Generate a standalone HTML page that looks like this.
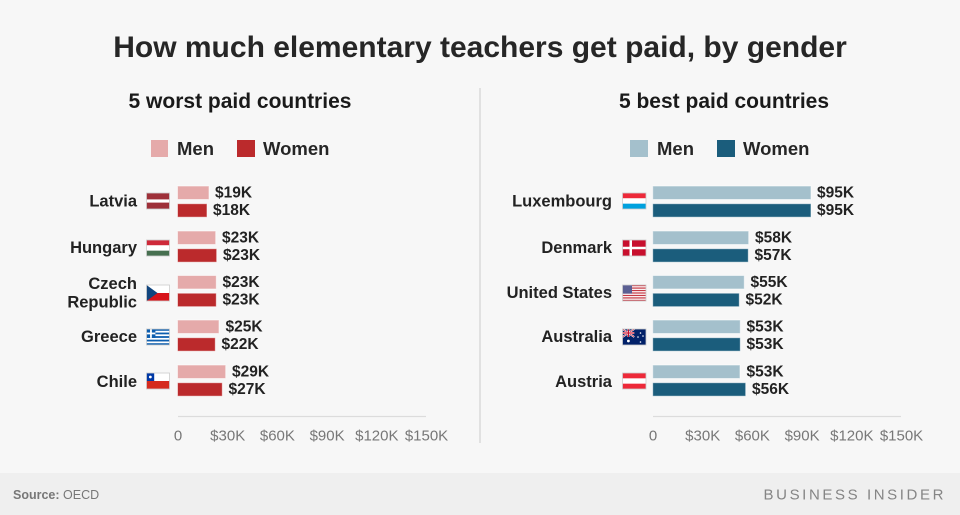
<!DOCTYPE html>
<html><head><meta charset="utf-8"><style>
html,body{margin:0;padding:0;background:#f7f7f7;}
svg{display:block;font-family:"Liberation Sans",Arial,sans-serif;}
</style></head><body>
<svg width="960" height="515" viewBox="0 0 960 515" xmlns="http://www.w3.org/2000/svg">
<rect x="0" y="0" width="960" height="515" fill="#f7f7f7"/>
<rect x="0" y="473" width="960" height="42" fill="#efefef"/>

<text x="480" y="57" text-anchor="middle" font-size="30" font-weight="bold" fill="#262626">How much elementary teachers get paid, by gender</text>

<text x="240" y="108" text-anchor="middle" font-size="21" font-weight="bold" fill="#1a1a1a">5 worst paid countries</text>
<text x="724" y="108" text-anchor="middle" font-size="21" font-weight="bold" fill="#1a1a1a">5 best paid countries</text>

<line x1="480" y1="88" x2="480" y2="443" stroke="#dadada" stroke-width="1.5"/>

<!-- legends -->
<rect x="151" y="140" width="17" height="17" fill="#e5aaaa"/>
<text x="177" y="155" font-size="18.5" font-weight="bold" fill="#262626">Men</text>
<rect x="237" y="140" width="18" height="17" fill="#bb2a2c"/>
<text x="263" y="155" font-size="18.5" font-weight="bold" fill="#262626">Women</text>

<rect x="630" y="140" width="18" height="17" fill="#a4c0cc"/>
<text x="657" y="155" font-size="18.5" font-weight="bold" fill="#262626">Men</text>
<rect x="717" y="140" width="18" height="17" fill="#1b5d7c"/>
<text x="743" y="155" font-size="18.5" font-weight="bold" fill="#262626">Women</text>

<!-- axes -->
<line x1="178" y1="416.5" x2="426" y2="416.5" stroke="#dcdcdc" stroke-width="1.2"/>
<line x1="653" y1="416.5" x2="901" y2="416.5" stroke="#dcdcdc" stroke-width="1.2"/>
<g font-size="15" fill="#777" text-anchor="middle">
<text x="178" y="440.5">0</text>
<text x="227.7" y="440.5">$30K</text>
<text x="277.4" y="440.5">$60K</text>
<text x="327.1" y="440.5">$90K</text>
<text x="376.8" y="440.5">$120K</text>
<text x="426.5" y="440.5">$150K</text>
<text x="653" y="440.5">0</text>
<text x="702.7" y="440.5">$30K</text>
<text x="752.4" y="440.5">$60K</text>
<text x="802.1" y="440.5">$90K</text>
<text x="851.8" y="440.5">$120K</text>
<text x="901.5" y="440.5">$150K</text>
</g>

<!-- left bars -->
<g stroke="rgba(255,255,255,0.55)" stroke-width="1">
<rect x="177.5" y="186" width="31.5" height="13.5" fill="#e5aaaa"/>
<rect x="177.5" y="203.7" width="29.5" height="13.5" fill="#bb2a2c"/>
<rect x="177.5" y="231" width="38.2" height="13.5" fill="#e5aaaa"/>
<rect x="177.5" y="248.7" width="39.2" height="13.5" fill="#bb2a2c"/>
<rect x="177.5" y="275.5" width="38.8" height="13.5" fill="#e5aaaa"/>
<rect x="177.5" y="293.2" width="38.8" height="13.5" fill="#bb2a2c"/>
<rect x="177.5" y="320" width="41.5" height="13.5" fill="#e5aaaa"/>
<rect x="177.5" y="337.7" width="37.8" height="13.5" fill="#bb2a2c"/>
<rect x="177.5" y="365" width="48.2" height="13.5" fill="#e5aaaa"/>
<rect x="177.5" y="382.7" width="44.8" height="13.5" fill="#bb2a2c"/>
</g>
<g font-size="15.5" font-weight="bold" fill="#222">
<text x="215" y="197.5">$19K</text>
<text x="213" y="215.2">$18K</text>
<text x="222" y="242.5">$23K</text>
<text x="223" y="260.2">$23K</text>
<text x="222.5" y="287">$23K</text>
<text x="222.5" y="304.7">$23K</text>
<text x="225.5" y="331.5">$25K</text>
<text x="221.5" y="349.2">$22K</text>
<text x="232" y="376.5">$29K</text>
<text x="228.5" y="394.2">$27K</text>
</g>
<g font-size="16.5" font-weight="bold" fill="#222" text-anchor="end">
<text x="137" y="206.5">Latvia</text>
<text x="137" y="253">Hungary</text>
<text x="137" y="289">Czech</text>
<text x="137" y="307.5">Republic</text>
<text x="137" y="342">Greece</text>
<text x="137" y="387">Chile</text>
</g>

<!-- right bars -->
<g stroke="rgba(255,255,255,0.55)" stroke-width="1">
<rect x="652.7" y="186" width="158.3" height="13.5" fill="#a4c0cc"/>
<rect x="652.7" y="203.7" width="158.3" height="13.5" fill="#1b5d7c"/>
<rect x="652.7" y="231" width="96" height="13.5" fill="#a4c0cc"/>
<rect x="652.7" y="248.7" width="95.6" height="13.5" fill="#1b5d7c"/>
<rect x="652.7" y="275.5" width="91.6" height="13.5" fill="#a4c0cc"/>
<rect x="652.7" y="293.2" width="86.6" height="13.5" fill="#1b5d7c"/>
<rect x="652.7" y="320" width="87.6" height="13.5" fill="#a4c0cc"/>
<rect x="652.7" y="337.7" width="87.6" height="13.5" fill="#1b5d7c"/>
<rect x="652.7" y="365" width="87.3" height="13.5" fill="#a4c0cc"/>
<rect x="652.7" y="382.7" width="93" height="13.5" fill="#1b5d7c"/>
</g>
<g font-size="15.5" font-weight="bold" fill="#222">
<text x="817" y="197.5">$95K</text>
<text x="817" y="215.2">$95K</text>
<text x="755" y="242.5">$58K</text>
<text x="754.5" y="260.2">$57K</text>
<text x="750.5" y="287">$55K</text>
<text x="745.5" y="304.7">$52K</text>
<text x="746.5" y="331.5">$53K</text>
<text x="746.5" y="349.2">$53K</text>
<text x="746.5" y="376.5">$53K</text>
<text x="752" y="394.2">$56K</text>
</g>
<g font-size="16.5" font-weight="bold" fill="#222" text-anchor="end">
<text x="612" y="206.5">Luxembourg</text>
<text x="612" y="253">Denmark</text>
<text x="612" y="298">United States</text>
<text x="612" y="342">Australia</text>
<text x="612" y="387">Austria</text>
</g>

<!-- flags left -->
<!-- Latvia -->
<g transform="translate(146.5,193)">
<rect width="23" height="16" fill="#9e3039"/>
<rect y="6.4" width="23" height="3.2" fill="#fff"/>
<rect width="23" height="16" fill="none" stroke="#ccc" stroke-width="0.8"/>
</g>
<!-- Hungary -->
<g transform="translate(146.5,240)">
<rect width="23" height="5.33" fill="#ce2939"/>
<rect y="5.33" width="23" height="5.34" fill="#fff"/>
<rect y="10.67" width="23" height="5.33" fill="#477050"/>
<rect width="23" height="16" fill="none" stroke="#ccc" stroke-width="0.8"/>
</g>
<!-- Czech -->
<g transform="translate(146.5,285)">
<rect width="23" height="8" fill="#fff"/>
<rect y="8" width="23" height="8" fill="#d7141a"/>
<polygon points="0,0 11,8 0,16" fill="#11457e"/>
<rect width="23" height="16" fill="none" stroke="#ccc" stroke-width="0.8"/>
</g>
<!-- Greece -->
<g transform="translate(146.5,329)">
<rect width="23" height="16" fill="#fff"/>
<rect y="0" width="23" height="1.78" fill="#0d5eaf"/>
<rect y="3.56" width="23" height="1.78" fill="#0d5eaf"/>
<rect y="7.11" width="23" height="1.78" fill="#0d5eaf"/>
<rect y="10.67" width="23" height="1.78" fill="#0d5eaf"/>
<rect y="14.22" width="23" height="1.78" fill="#0d5eaf"/>
<rect width="8.9" height="8.9" fill="#0d5eaf"/>
<rect x="3.56" width="1.78" height="8.9" fill="#fff"/>
<rect y="3.56" width="8.9" height="1.78" fill="#fff"/>
<rect width="23" height="16" fill="none" stroke="#ccc" stroke-width="0.8"/>
</g>
<!-- Chile -->
<g transform="translate(146.5,373)">
<rect width="23" height="8" fill="#fff"/>
<rect y="8" width="23" height="8" fill="#d52b1e"/>
<rect width="7.7" height="8" fill="#0039a6"/>
<circle cx="3.85" cy="4" r="1.4" fill="#fff"/>
<rect width="23" height="16" fill="none" stroke="#ccc" stroke-width="0.8"/>
</g>

<!-- flags right -->
<!-- Luxembourg -->
<g transform="translate(622.5,193)">
<rect width="23.5" height="5.33" fill="#ed2939"/>
<rect y="5.33" width="23.5" height="5.34" fill="#fff"/>
<rect y="10.67" width="23.5" height="5.33" fill="#00a1de"/>
<rect width="23.5" height="16" fill="none" stroke="#ccc" stroke-width="0.8"/>
</g>
<!-- Denmark -->
<g transform="translate(622.5,240)">
<rect width="23.5" height="16" fill="#c8102e"/>
<rect x="7" width="2.5" height="16" fill="#fff"/>
<rect y="6.75" width="23.5" height="2.5" fill="#fff"/>
<rect width="23.5" height="16" fill="none" stroke="#ccc" stroke-width="0.8"/>
</g>
<!-- USA -->
<g transform="translate(622.5,285)">
<rect width="23.5" height="16" fill="#fff"/>
<g fill="#c53a45">
<rect y="0" width="23.5" height="1.23"/>
<rect y="2.46" width="23.5" height="1.23"/>
<rect y="4.92" width="23.5" height="1.23"/>
<rect y="7.38" width="23.5" height="1.23"/>
<rect y="9.85" width="23.5" height="1.23"/>
<rect y="12.31" width="23.5" height="1.23"/>
<rect y="14.77" width="23.5" height="1.23"/>
</g>
<rect width="9.5" height="8.6" fill="#5b5f93"/>
<rect width="23.5" height="16" fill="none" stroke="#ccc" stroke-width="0.8"/>
</g>
<!-- Australia -->
<g transform="translate(622.5,329)">
<rect width="23.5" height="16" fill="#012169"/>
<g transform="translate(0,0)">
<line x1="0" y1="0" x2="11.75" y2="8" stroke="#fff" stroke-width="1.8"/>
<line x1="11.75" y1="0" x2="0" y2="8" stroke="#fff" stroke-width="1.8"/>
<line x1="0" y1="0" x2="11.75" y2="8" stroke="#c8102e" stroke-width="0.6"/>
<line x1="11.75" y1="0" x2="0" y2="8" stroke="#c8102e" stroke-width="0.6"/>
<rect x="4.9" width="2" height="8" fill="#fff"/>
<rect y="3" width="11.75" height="2" fill="#fff"/>
<rect x="5.3" width="1.2" height="8" fill="#c8102e"/>
<rect y="3.4" width="11.75" height="1.2" fill="#c8102e"/>
</g>
<circle cx="5.9" cy="12" r="1.4" fill="#fff"/>
<circle cx="18" cy="4" r="0.8" fill="#fff"/>
<circle cx="15.5" cy="8" r="0.8" fill="#fff"/>
<circle cx="20.5" cy="7" r="0.8" fill="#fff"/>
<circle cx="18" cy="13" r="0.8" fill="#fff"/>
<rect width="23.5" height="16" fill="none" stroke="#ccc" stroke-width="0.8"/>
</g>
<!-- Austria -->
<g transform="translate(622.5,373)">
<rect width="23.5" height="16" fill="#ed2939"/>
<rect y="5.33" width="23.5" height="5.34" fill="#fff"/>
<rect width="23.5" height="16" fill="none" stroke="#ccc" stroke-width="0.8"/>
</g>

<!-- footer -->
<text x="13" y="499" font-size="12.5" fill="#777"><tspan font-weight="bold">Source:</tspan> OECD</text>
<text x="946" y="499.5" text-anchor="end" font-size="15" fill="#858585" letter-spacing="2.6">BUSINESS INSIDER</text>
</svg>
</body></html>
